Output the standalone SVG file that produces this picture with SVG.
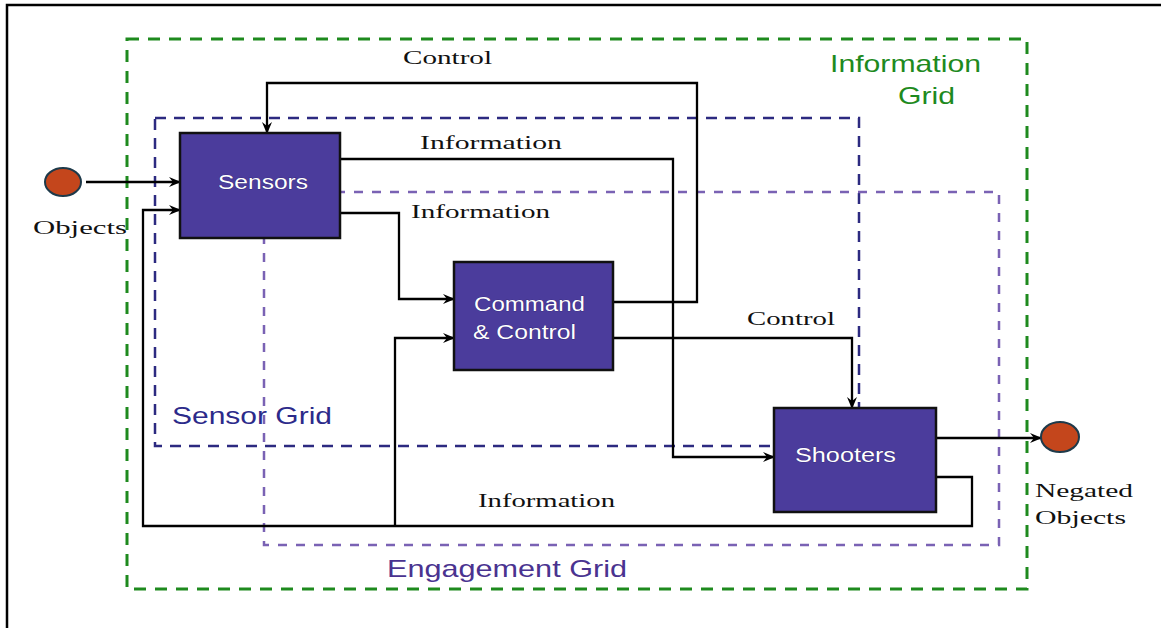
<svg xmlns="http://www.w3.org/2000/svg" width="1161" height="628" viewBox="0 0 1161 628">
<style>
.frame{stroke:#000;stroke-width:2.5;fill:none}
.grid-info{fill:none;stroke:#1e8a1e;stroke-width:3;stroke-dasharray:12 9}
.grid-sensor{fill:none;stroke:#2c2a80;stroke-width:2.5;stroke-dasharray:11 8}
.grid-eng{fill:none;stroke:#7a62b4;stroke-width:2.5;stroke-dasharray:9 9}
.box{fill:#4b3c9c;stroke:#111;stroke-width:2.5}
.boxtxt{fill:#fff;font-family:"Liberation Sans",Arial,sans-serif;font-size:20px;stroke:#2a1f66;stroke-width:0.6;paint-order:stroke}
.conn{fill:none;stroke:#000;stroke-width:2.3}
.lbl{fill:#111;font-family:"Liberation Serif","DejaVu Serif",serif;font-size:19px}
.gridlbl{font-family:"Liberation Sans",Arial,sans-serif;font-size:24px}
.obj{fill:#c4461c;stroke:#1e3a4a;stroke-width:2}
</style>
<defs>
<marker id="arr" markerWidth="12" markerHeight="10" refX="11" refY="5" orient="auto" markerUnits="userSpaceOnUse">
<path d="M0,0 L12,5 L0,10 L4,5 z" fill="#000"/>
</marker>
</defs>
<rect width="1161" height="628" fill="#fff"/>
<path class="frame" d="M7,628 V5 H1161"/>

<g id="information-grid">
<rect class="grid-info" x="127" y="39" width="900" height="550"/>
<text class="gridlbl" fill="#1e8a1e" x="830" y="72" textLength="151" lengthAdjust="spacingAndGlyphs">Information</text>
<text class="gridlbl" fill="#1e8a1e" x="898" y="104" textLength="57" lengthAdjust="spacingAndGlyphs">Grid</text>
</g>
<g id="sensor-grid">
<rect class="grid-sensor" x="155" y="118" width="704" height="328"/>
<text class="gridlbl" fill="#2c2a8a" x="172" y="424" textLength="160" lengthAdjust="spacingAndGlyphs">Sensor Grid</text>
</g>
<g id="engagement-grid">
<rect class="grid-eng" x="264" y="192" width="735" height="353"/>
<text class="gridlbl" fill="#4a3390" x="387" y="577" textLength="240" lengthAdjust="spacingAndGlyphs">Engagement Grid</text>
</g>

<g id="connectors">
<path class="conn" d="M86,182 H180" marker-end="url(#arr)"/>
<path class="conn" d="M936,477 H972 V526 H143 V210 H180" marker-end="url(#arr)"/>
<path class="conn" d="M395,526 V338 H454" marker-end="url(#arr)"/>
<path class="conn" d="M340,213 H399 V299 H454" marker-end="url(#arr)"/>
<path class="conn" d="M340,159 H673 V457 H774" marker-end="url(#arr)"/>
<path class="conn" d="M613,302 H697 V83 H267 V133" marker-end="url(#arr)"/>
<path class="conn" d="M613,338 H852 V408" marker-end="url(#arr)"/>
<path class="conn" d="M936,438 H1041" marker-end="url(#arr)"/>
<text class="lbl" x="403" y="64" textLength="89" lengthAdjust="spacingAndGlyphs">Control</text>
<text class="lbl" x="420" y="149" textLength="142" lengthAdjust="spacingAndGlyphs">Information</text>
<text class="lbl" x="411" y="218" textLength="139" lengthAdjust="spacingAndGlyphs">Information</text>
<text class="lbl" x="747" y="325" textLength="88" lengthAdjust="spacingAndGlyphs">Control</text>
<text class="lbl" x="478" y="507" textLength="137" lengthAdjust="spacingAndGlyphs">Information</text>
</g>

<g id="objects">
<ellipse class="obj" cx="63" cy="182" rx="18" ry="14"/>
<text class="lbl" x="33" y="234" textLength="94" lengthAdjust="spacingAndGlyphs">Objects</text>
</g>
<g id="sensors">
<rect class="box" x="180" y="133" width="160" height="105"/>
<text class="boxtxt" x="218" y="189" textLength="90" lengthAdjust="spacingAndGlyphs">Sensors</text>
</g>
<g id="command-control">
<rect class="box" x="454" y="262" width="159" height="108"/>
<text class="boxtxt" x="474" y="311" textLength="111" lengthAdjust="spacingAndGlyphs">Command</text>
<text class="boxtxt" x="473" y="339" textLength="103" lengthAdjust="spacingAndGlyphs">&amp; Control</text>
</g>
<g id="shooters">
<rect class="box" x="774" y="408" width="162" height="104"/>
<text class="boxtxt" x="795" y="462" textLength="101" lengthAdjust="spacingAndGlyphs">Shooters</text>
</g>
<g id="negated-objects">
<ellipse class="obj" cx="1060" cy="437" rx="19" ry="15"/>
<text class="lbl" x="1035" y="497" textLength="98" lengthAdjust="spacingAndGlyphs">Negated</text>
<text class="lbl" x="1035" y="524" textLength="91" lengthAdjust="spacingAndGlyphs">Objects</text>
</g>
</svg>
